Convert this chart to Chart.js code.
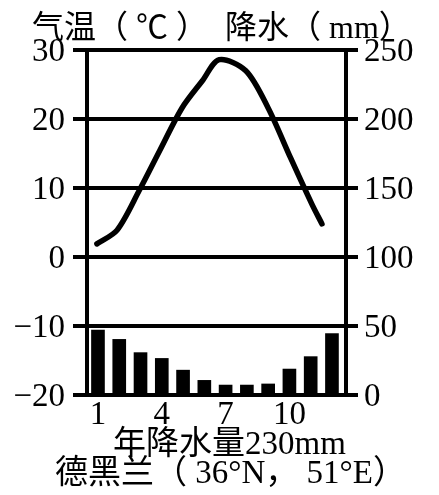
<!DOCTYPE html>
<html>
<head>
<meta charset="utf-8">
<script src="https://cdn.jsdelivr.net/npm/chart.js@4"></script>
<style>
  html, body { margin: 0; padding: 0; background: #fff; }
  #wrap { position: relative; width: 439px; height: 495px; overflow: hidden; }
  canvas { position: absolute; left: 0; top: 0; }
  .txt {
    position: absolute; white-space: pre; color: #000; line-height: 34px; font-size: 32px;
    font-family: "Liberation Serif", "Noto Sans CJK SC", serif;
  }
</style>
</head>
<body>
<div id="wrap">
  <canvas id="climate" width="439" height="495"></canvas>
  <div class="txt" style="left:32px;top:10px">气温（ ℃ ）</div>
  <div class="txt" style="left:225px;top:10px">降水（ mm）</div>
  <div class="txt" style="left:113px;top:426px;font-size:33px">年降水量230mm</div>
  <div class="txt" style="left:55px;top:455px;font-size:33px">德黑兰（ 36°N， 51°E）</div>
</div>
<script>
const months = [1, 2, 3, 4, 5, 6, 7, 8, 9, 10, 11, 12];
const precip = [47, 40.3, 30.7, 26.5, 18, 10.6, 7.2, 7.2, 8, 18.8, 27.8, 44.5];
// the curve is drawn narrower than the bars, so it has its own x positions
const tempX = [0.95, 1.9, 2.95, 3.9, 4.95, 5.9, 6.7, 7.95, 9, 10.05, 11.05, 11.53];
const temp = [1.9, 3.9, 9.7, 15.4, 21.6, 25.5, 28.6, 27, 21.6, 14.4, 7.7, 4.8];
const monthTicks = [1, 4, 7, 10];

const tickFont = { family: '"Liberation Serif", serif', size: 33 };

new Chart(document.getElementById('climate'), {
  data: {
    datasets: [
      {
        type: 'line',
        data: temp.map((t, i) => ({ x: tempX[i], y: t })),
        yAxisID: 'yTemp',
        borderColor: '#000',
        borderWidth: 5.5,
        borderCapStyle: 'round',
        borderJoinStyle: 'round',
        tension: 0.3,
        pointRadius: 0,
        order: 1
      },
      {
        type: 'bar',
        data: precip.map((p, i) => ({ x: months[i], y: p })),
        yAxisID: 'yRain',
        backgroundColor: '#000',
        barThickness: 13,
        order: 2
      }
    ]
  },
  options: {
    responsive: false,
    animation: false,
    devicePixelRatio: 1,
    layout: { padding: { top: 50, left: 0, right: 0, bottom: 0 } },
    plugins: { legend: { display: false }, tooltip: { enabled: false } },
    scales: {
      x: {
        type: 'linear',
        offset: false,
        min: 0.484,
        max: 12.66,
        grid: { display: false },
        border: { display: false },
        afterBuildTicks: (s) => { s.ticks = monthTicks.map(v => ({ value: v })); },
        afterFit: (s) => { s.height = 100; },
        ticks: { color: '#000', font: tickFont, padding: -7, maxRotation: 0, autoSkip: false }
      },
      yTemp: {
        position: 'left',
        min: -20,
        max: 30,
        afterFit: (s) => { s.width = 87; },
        border: { color: '#000', width: 4 },
        grid: { color: '#000', lineWidth: 4, tickLength: 14, drawTicks: true },
        ticks: {
          color: '#000', font: tickFont, stepSize: 10, padding: 8, labelOffset: 2,
          callback: (v) => String(v).replace('-', '\u2212')
        }
      },
      yRain: {
        position: 'right',
        min: 0,
        max: 250,
        afterFit: (s) => { s.width = 93; },
        border: { color: '#000', width: 4 },
        grid: { color: '#000', lineWidth: 4, tickLength: 12, drawOnChartArea: false },
        ticks: { color: '#000', font: tickFont, stepSize: 50, padding: 6, labelOffset: 2 }
      }
    }
  }
});
</script>
</body>
</html>
